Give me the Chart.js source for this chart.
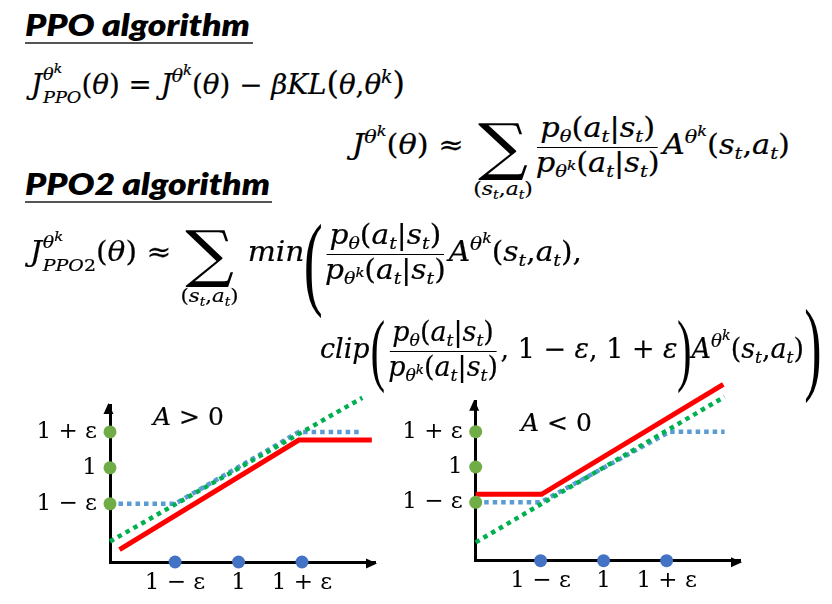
<!DOCTYPE html>
<html><head><meta charset="utf-8">
<script src="https://cdn.jsdelivr.net/npm/chart.js@4.4.0/dist/chart.umd.min.js"></script>
<style>
html,body{margin:0;padding:0;background:#fff}
body{width:832px;height:604px;position:relative;overflow:hidden;color:#000}
.hd{position:absolute;font-family:Lato,'Open Sans',sans-serif;font-weight:800;font-style:italic;font-size:31px;line-height:1;white-space:nowrap;transform-origin:left center}
.ul{position:absolute;height:2px;background:#555}
.f{position:absolute;height:0;display:flex;align-items:center}
.in{font-family:'DejaVu Serif','Liberation Serif',serif;font-size:27px;line-height:1.2;white-space:nowrap;transform-origin:left center;-webkit-text-stroke:.2px #000}
i{font-style:italic}
.sp{font-size:.68em;vertical-align:.6em}
.k{font-size:.78em;vertical-align:.5em}
.sb{font-size:.64em;vertical-align:-.3em}
.ss{display:inline-flex;flex-direction:column;font-size:.64em;line-height:1.35;vertical-align:.8em;margin-left:.05em}
.fr{display:inline-flex;flex-direction:column;align-items:center;vertical-align:middle;font-size:1em;line-height:1.1}
.fr>.n{border-bottom:1.6px solid #000;padding:0 .1em}
.fr>.d{padding:0 .1em}
.sum{display:inline-block;position:relative;vertical-align:middle;line-height:1;margin:0 .15em}
.sum .sg{font-size:2.3em;display:block;line-height:1;-webkit-text-stroke:0}
.sum .lim{position:absolute;top:100%;left:50%;transform:translateX(-50%);font-size:.72em;white-space:nowrap;line-height:1;margin-top:.05em}
.bp{display:inline-block;position:relative;height:1em;vertical-align:middle}
.bp>span{position:absolute;left:50%;top:50%;line-height:1;font-family:'Liberation Serif',serif;-webkit-text-stroke:0}
.note{position:absolute;font-family:'DejaVu Serif',serif;font-size:25px;line-height:1;white-space:nowrap;-webkit-text-stroke:.2px #000}
.cw{position:absolute}
</style>
</head><body>

<div class="hd" id="h1" style="left:25px;top:9px" data-w="225">PPO algorithm</div>
<div class="ul" style="left:25px;top:42px;width:228px"></div>

<div class="f" style="left:31px;top:84px"><span class="in" data-w="374"><i>J</i><span class="ss"><span><i>θ</i><span class="k"><i>k</i></span></span><span><i>PPO</i></span></span>(<i>θ</i>) = <i>J</i><span class="sp"><i>θ</i><span class="k"><i>k</i></span></span>(<i>θ</i>) − <i>βKL</i><span style="font-size:1.15em">(</span><i>θ</i>,<i>θ</i><span class="sp"><i>k</i></span><span style="font-size:1.15em">)</span></span></div>

<div class="f" style="left:352px;top:147px"><span class="in" data-w="438"><i>J</i><span class="sp"><i>θ</i><span class="k"><i>k</i></span></span>(<i>θ</i>) ≈ <span class="sum"><span class="sg">∑</span><span class="lim">(<i>s</i><span class="sb"><i>t</i></span>,<i>a</i><span class="sb"><i>t</i></span>)</span></span><span class="fr"><span class="n"><i>p</i><span class="sb"><i>θ</i></span>(<i>a</i><span class="sb"><i>t</i></span>|<i>s</i><span class="sb"><i>t</i></span>)</span><span class="d"><i>p</i><span class="sb"><i>θ</i><span class="k"><i>k</i></span></span>(<i>a</i><span class="sb"><i>t</i></span>|<i>s</i><span class="sb"><i>t</i></span>)</span></span><i>A</i><span class="sp"><i>θ</i><span class="k"><i>k</i></span></span>(<i>s</i><span class="sb"><i>t</i></span>,<i>a</i><span class="sb"><i>t</i></span>)</span></div>

<div class="hd" id="h2" style="left:25px;top:168px" data-w="245">PPO2 algorithm</div>
<div class="ul" style="left:25px;top:201px;width:247px"></div>

<div class="f" style="left:30px;top:254px"><span class="in" data-w="552"><i>J</i><span class="ss"><span><i>θ</i><span class="k"><i>k</i></span></span><span><i>PPO</i>2</span></span>(<i>θ</i>) ≈ <span class="sum"><span class="sg">∑</span><span class="lim">(<i>s</i><span class="sb"><i>t</i></span>,<i>a</i><span class="sb"><i>t</i></span>)</span></span> <i>min</i><span class="bp" style="width:16px"><span style="font-size:104px;transform:translate(-50%,-43%) scaleX(.5)">(</span></span><span class="fr"><span class="n"><i>p</i><span class="sb"><i>θ</i></span>(<i>a</i><span class="sb"><i>t</i></span>|<i>s</i><span class="sb"><i>t</i></span>)</span><span class="d"><i>p</i><span class="sb"><i>θ</i><span class="k"><i>k</i></span></span>(<i>a</i><span class="sb"><i>t</i></span>|<i>s</i><span class="sb"><i>t</i></span>)</span></span><i>A</i><span class="sp"><i>θ</i><span class="k"><i>k</i></span></span>(<i>s</i><span class="sb"><i>t</i></span>,<i>a</i><span class="sb"><i>t</i></span>),</span></div>

<div class="f" style="left:320px;top:351px"><span class="in" data-w="502"><i>clip</i><span class="bp" style="width:16px"><span style="font-size:80px;transform:translate(-50%,-52%) scaleX(.55)">(</span></span><span class="fr"><span class="n"><i>p</i><span class="sb"><i>θ</i></span>(<i>a</i><span class="sb"><i>t</i></span>|<i>s</i><span class="sb"><i>t</i></span>)</span><span class="d"><i>p</i><span class="sb"><i>θ</i><span class="k"><i>k</i></span></span>(<i>a</i><span class="sb"><i>t</i></span>|<i>s</i><span class="sb"><i>t</i></span>)</span></span>, 1 − <i>ε</i>, 1 + <i>ε</i><span class="bp" style="width:14px"><span style="font-size:80px;transform:translate(-50%,-52%) scaleX(.55)">)</span></span><i>A</i><span class="sp"><i>θ</i><span class="k"><i>k</i></span></span>(<i>s</i><span class="sb"><i>t</i></span>,<i>a</i><span class="sb"><i>t</i></span>)<span class="bp" style="width:18px"><span style="font-size:104px;transform:translate(-50%,-55%) scaleX(.5)">)</span></span></span></div>

<div class="cw" style="left:0;top:370px;width:400px;height:234px"><canvas id="cvPos"></canvas></div>
<div class="cw" style="left:370px;top:360px;width:462px;height:244px"><canvas id="cvNeg"></canvas></div>

<div class="note" style="left:153px;top:404px"><i>A</i> &gt; 0</div>
<div class="note" style="left:521px;top:410px"><i>A</i> &lt; 0</div>

<script>
// ---- data ----
const ratioTicks = [0.8, 1.0, 1.2];
const ratioTickLabels = ['1 − ε', '1', '1 + ε'];

// A > 0 panel
const posRatioX = [0.595, 1.39];
const posRatioY = [0.59, 1.39];
const posClipX = [0.595, 0.8, 1.19, 1.39];
const posClipY = [0.8, 0.8, 1.2, 1.2];
const posObjX = [0.625, 1.19, 1.42];
const posObjY = [0.545, 1.155, 1.155];

// A < 0 panel
const negRatioX = [0.594, 1.384];
const negRatioY = [0.573, 1.398];
const negClipX = [0.594, 0.8, 1.21, 1.384];
const negClipY = [0.8, 0.8, 1.2, 1.2];
const negObjX = [0.594, 0.803, 1.38];
const negObjY = [0.845, 0.845, 1.468];

function pts(xs, ys) { return xs.map((x, i) => ({ x: x, y: ys[i] })); }
function tickLabel(v) { const i = ratioTicks.indexOf(v); return i >= 0 ? ratioTickLabels[i] : ''; }

const axisArrows = {
  id: 'axisArrows',
  afterDatasetsDraw(chart) {
    const { ctx, chartArea: a } = chart;
    ctx.save();
    ctx.fillStyle = '#000';
    const L = 11, W = 5;
    const xl = a.left - 1.5, yb = a.bottom + 1.5;
    ctx.beginPath();
    ctx.moveTo(a.right + 2, yb);
    ctx.lineTo(a.right + 2 - L, yb - W);
    ctx.lineTo(a.right + 2 - L, yb + W);
    ctx.closePath(); ctx.fill();
    ctx.beginPath();
    ctx.moveTo(xl, a.top - 2);
    ctx.lineTo(xl - W, a.top - 2 + L);
    ctx.lineTo(xl + W, a.top - 2 + L);
    ctx.closePath(); ctx.fill();
    ctx.restore();
  }
};

function panel(id, p) {
  const tickFont = { family: 'DejaVu Serif', size: 23 };
  return new Chart(document.getElementById(id), {
    type: 'scatter',
    data: {
      datasets: [
        { label: 'ratio ticks', data: ratioTicks.map(v => ({ x: v, y: p.yMin })), showLine: false,
          pointRadius: 6.5, pointBackgroundColor: '#4472C4', pointBorderWidth: 0, clip: false },
        { label: 'clip ticks', data: ratioTicks.map(v => ({ x: p.xMin, y: v })), showLine: false,
          pointRadius: 6.5, pointBackgroundColor: '#70AD47', pointBorderWidth: 0, clip: false },
        { label: 'objective', data: pts(p.objX, p.objY), showLine: true, borderColor: '#FF0000',
          borderWidth: 5, pointRadius: 0, clip: false, tension: 0 },
        { label: 'ratio', data: pts(p.ratioX, p.ratioY), showLine: true, borderColor: '#00B050',
          borderWidth: 4.5, borderDash: [4.5, 4.5], pointRadius: 0, clip: false },
        { label: 'clipped ratio', data: pts(p.clipX, p.clipY), showLine: true, borderColor: '#5B9BD5',
          borderWidth: 4.5, borderDash: [4.5, 4], pointRadius: 0, clip: false }
      ]
    },
    options: {
      responsive: true, maintainAspectRatio: false, animation: false, events: [],
      layout: { padding: { top: p.padTop, right: p.padRight, left: 0, bottom: 0 } },
      plugins: { legend: { display: false }, tooltip: { enabled: false } },
      scales: {
        x: {
          type: 'linear', min: p.xMin, max: p.xMax,
          grid: { display: false, drawTicks: false },
          border: { display: true, color: '#000', width: 3 },
          ticks: { font: tickFont, color: '#000', padding: 7, autoSkip: false, maxRotation: 0, minRotation: 0,
                   callback: v => tickLabel(v) },
          afterBuildTicks: s => { s.ticks = ratioTicks.map(v => ({ value: v })); },
          afterFit: s => { s.height = p.xH; }
        },
        y: {
          type: 'linear', min: p.yMin, max: p.yMax,
          grid: { display: false, drawTicks: false },
          border: { display: true, color: '#000', width: 3 },
          ticks: { font: tickFont, color: '#000', padding: 13, autoSkip: false,
                   callback: v => tickLabel(v) },
          afterBuildTicks: s => { s.ticks = ratioTicks.map(v => ({ value: v })); },
          afterFit: s => { s.width = p.yW; }
        }
      }
    },
    plugins: [axisArrows]
  });
}

panel('cvPos', { xMin: 0.595, xMax: 1.43, yMin: 0.476, yMax: 1.35,
  padTop: 35, padRight: 25, yW: 110, xH: 42,
  ratioX: posRatioX, ratioY: posRatioY, clipX: posClipX, clipY: posClipY, objX: posObjX, objY: posObjY });
panel('cvNeg', { xMin: 0.594, xMax: 1.433, yMin: 0.469, yMax: 1.37,
  padTop: 41.7, padRight: 92, yW: 105.7, xH: 43.3,
  ratioX: negRatioX, ratioY: negRatioY, clipX: negClipX, clipY: negClipY, objX: negObjX, objY: negObjY });

function fit() {
  document.querySelectorAll('[data-w]').forEach(el => {
    el.style.transform = 'none';
    const w = el.getBoundingClientRect().width;
    if (w > 0) el.style.transform = 'scaleX(' + (parseFloat(el.dataset.w) / w) + ')';
  });
}
fit();
if (document.fonts && document.fonts.ready) document.fonts.ready.then(fit);
</script>
</body></html>
